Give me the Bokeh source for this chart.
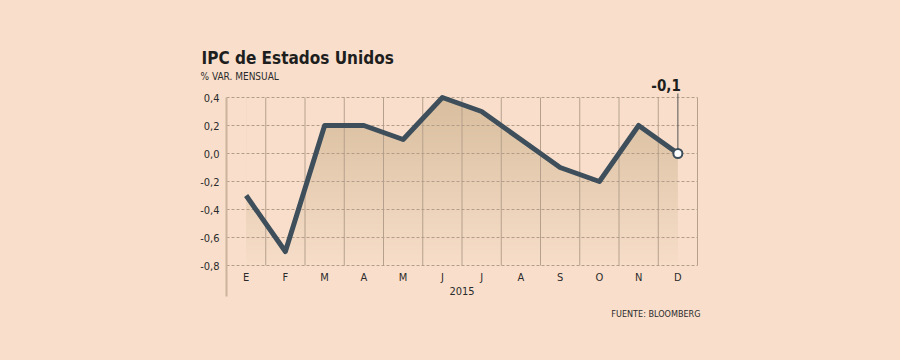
import numpy as np
from bokeh.plotting import figure
from bokeh.models import FixedTicker, Label, Range1d, GlobalInlineStyleSheet
from bokeh.embed import file_html
from bokeh.resources import INLINE

# ---- data ----
months = ["E", "F", "M", "A", "M", "J", "J", "A", "S", "O", "N", "D"]
ipc = [-0.3, -0.7, 0.2, 0.2, 0.1, 0.4, 0.3, 0.1, -0.1, -0.2, 0.2, 0.0]
y_ticks = [-0.8, -0.6, -0.4, -0.2, 0.0, 0.2, 0.4]
y_tick_labels = ["-0,8", "-0,6", "-0,4", "-0,2", "0,0", "0,2", "0,4"]
year_label = "2015"
last_label = "-0,1"
title_text = "IPC de Estados Unidos"
subtitle_text = "% VAR. MENSUAL"
source_text = "FUENTE: BLOOMBERG"

# ---- style / layout (pixels) ----
BG = "#f9dfcb"
LINE = "#3e4f5b"
FONT = "DejaVu Sans Condensed"
W, H = 900, 360
PL, PR, PT, PB = 226, 697, 97, 265   # pixel box of the data area

x = list(range(len(months)))
ymin, ymax = y_ticks[0], y_ticks[-1]
xlo, xhi = -0.5, len(months) - 0.5
upx = (xhi - xlo) / (PR - PL)
upy = (ymax - ymin) / (PB - PT)

p = figure(width=W, height=H,
           x_range=Range1d(xlo - PL * upx, xhi + (W - PR) * upx),
           y_range=Range1d(ymin - (H - PB) * upy, ymax + PT * upy),
           output_backend="svg", toolbar_location=None,
           min_border=0, min_border_left=0, min_border_right=0,
           min_border_top=0, min_border_bottom=0,
           background_fill_color=BG, border_fill_color=BG,
           outline_line_color=None)
p.stylesheets = [GlobalInlineStyleSheet(css="html, body { background: %s; }" % BG)]
p.grid.visible = False

# gradient area under the line
n = 64
t = np.linspace(0.0, 1.0, n)
top = np.array([217, 190, 158])
bot = np.array([247, 222, 201])
cols = (bot[None, :] + (top - bot)[None, :] * t[:, None]).astype(np.uint8)
img = np.empty((n, 1), dtype=np.uint32)
view = img.view(dtype=np.uint8).reshape((n, 1, 4))
view[:, 0, 0:3] = cols
view[:, 0, 3] = 255
p.image_rgba(image=[img], x=x[0], y=ymin, dw=x[-1] - x[0], dh=ymax - ymin)
# mask above the line
p.varea(x=x, y1=ipc, y2=[ymax + 0.05] * len(x), fill_color=BG)

# grid lines
bounds_x = [i + 0.5 for i in x]
p.segment(x0=bounds_x, y0=[ymin] * len(bounds_x), x1=bounds_x, y1=[ymax] * len(bounds_x),
          line_color="#b5a08d", line_width=1)
p.segment(x0=[xlo] * len(y_ticks), y0=y_ticks, x1=[xhi] * len(y_ticks), y1=y_ticks,
          line_color="#b29c8a", line_width=1, line_dash="3 2")

# axes (fixed inside the canvas)
p.yaxis.fixed_location = xlo
p.yaxis.bounds = (ymin - 31 * upy, ymax)
p.yaxis.ticker = FixedTicker(ticks=y_ticks)
p.yaxis.major_label_overrides = {v: s for v, s in zip(y_ticks, y_tick_labels)}
p.yaxis.major_tick_line_color = None
p.yaxis.major_tick_out = 0
p.yaxis.major_tick_in = 0
p.yaxis.minor_tick_line_color = None
p.yaxis.axis_line_color = "#cbb39e"
p.yaxis.axis_line_width = 2
p.yaxis.major_label_standoff = 7
p.yaxis.major_label_text_font = FONT
p.yaxis.major_label_text_font_size = "11px"
p.yaxis.major_label_text_color = "#2b2b2b"

p.xaxis.fixed_location = ymin
p.xaxis.bounds = (xlo, xhi)
p.xaxis.ticker = FixedTicker(ticks=x)
p.xaxis.major_label_overrides = {i: m for i, m in zip(x, months)}
p.xaxis.major_tick_line_color = None
p.xaxis.major_tick_out = 0
p.xaxis.major_tick_in = 0
p.xaxis.minor_tick_line_color = None
p.xaxis.axis_line_color = None
p.xaxis.major_label_standoff = 5
p.xaxis.major_label_text_font = FONT
p.xaxis.major_label_text_font_size = "11px"
p.xaxis.major_label_text_color = "#2b2b2b"
p.xaxis.axis_label = year_label
p.xaxis.axis_label_standoff = 0
p.xaxis.axis_label_text_font = FONT
p.xaxis.axis_label_text_font_size = "11px"
p.xaxis.axis_label_text_font_style = "normal"
p.xaxis.axis_label_text_color = "#2b2b2b"

# main line
p.line(x, ipc, line_color=LINE, line_width=5, line_join="round")

# annotation for last value
p.segment(x0=[x[-1]], y0=[ipc[-1]], x1=[x[-1]], y1=[ymax + 4 * upy],
          line_color="#555555", line_width=1)
p.scatter([x[-1]], [ipc[-1]], size=9, fill_color="white", line_color=LINE, line_width=2)
p.add_layout(Label(x=x[-1], y=ymax, x_offset=3, y_offset=13, text=last_label,
                   text_align="right", text_baseline="alphabetic",
                   text_font=FONT, text_font_size="15px", text_font_style="bold",
                   text_color="#1e1e1e"))

# titles
p.add_layout(Label(x=xlo, y=ymax, x_offset=-25, y_offset=40, text=title_text,
                   text_align="left", text_baseline="alphabetic",
                   text_font=FONT, text_font_size="17px", text_font_style="bold",
                   text_color="#1e1e1e"))
p.add_layout(Label(x=xlo, y=ymax, x_offset=-26, y_offset=21, text=subtitle_text,
                   text_align="left", text_baseline="alphabetic",
                   text_font=FONT, text_font_size="10px", text_color="#2b2b2b"))
p.add_layout(Label(x=xhi, y=ymin, x_offset=3, y_offset=-48, text=source_text,
                   text_align="right", text_baseline="alphabetic",
                   text_font=FONT, text_font_size="9px", text_color="#2b2b2b"))

open("out.html", "w").write(file_html(p, INLINE))
